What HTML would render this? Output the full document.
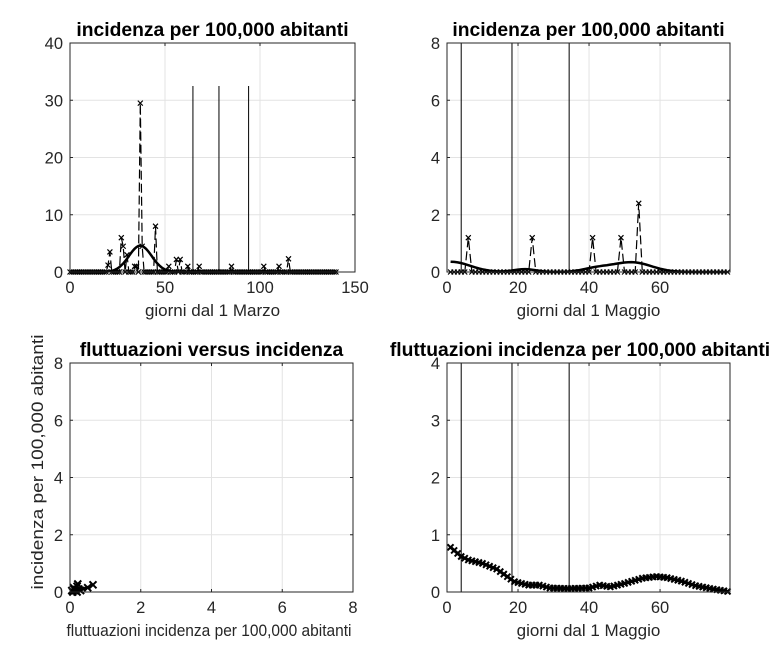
<!DOCTYPE html>
<html><head><meta charset="utf-8"><style>
html,body{margin:0;padding:0;background:#fff;}
svg{display:block;font-family:"Liberation Sans",sans-serif;}
.t{font-size:16.5px;fill:#262626;}
.l{font-size:17px;fill:#262626;}
.ti{font-size:19.3px;font-weight:bold;fill:#000;}
</style></head><body>
<svg id="s" width="784" height="658" viewBox="0 0 784 658" xmlns="http://www.w3.org/2000/svg"></svg>
<script>
var S=document.getElementById('s'),out='';
function ax(L,R,T,B,xl,yl,xt,yt,title,xlab,tx,xlx,xls){
  var o='';
  var sx=function(v){return L+(v-xl[0])/(xl[1]-xl[0])*(R-L)},sy=function(v){return B-(v-yl[0])/(yl[1]-yl[0])*(B-T)};
  xt.forEach(function(v){var x=sx(v);o+='<line x1="'+x+'" y1="'+T+'" x2="'+x+'" y2="'+B+'" stroke="#e3e3e3" stroke-width="1"/>';
    o+='<line x1="'+x+'" y1="'+B+'" x2="'+x+'" y2="'+(B-3)+'" stroke="#262626"/><line x1="'+x+'" y1="'+T+'" x2="'+x+'" y2="'+(T+3)+'" stroke="#262626"/>';
    o+='<text class="t" x="'+x+'" y="'+(B+21)+'" text-anchor="middle">'+v+'</text>';});
  yt.forEach(function(v){var y=sy(v);o+='<line x1="'+L+'" y1="'+y+'" x2="'+R+'" y2="'+y+'" stroke="#e3e3e3" stroke-width="1"/>';
    o+='<line x1="'+L+'" y1="'+y+'" x2="'+(L+3)+'" y2="'+y+'" stroke="#262626"/><line x1="'+R+'" y1="'+y+'" x2="'+(R-3)+'" y2="'+y+'" stroke="#262626"/>';
    o+='<text class="t" x="'+(L-7)+'" y="'+(y+6)+'" text-anchor="end">'+v+'</text>';});
  o+='<text class="ti" x="'+(tx||(L+R)/2)+'" y="'+(T-7)+'" text-anchor="middle">'+title+'</text>';
  if(xlab)o+='<text class="l" x="'+(xlx||(L+R)/2)+'" y="'+(B+44)+'" text-anchor="middle"'+(xls?' textLength="'+xls+'" lengthAdjust="spacingAndGlyphs"':'')+'>'+xlab+'</text>';
  return {o:o,sx:sx,sy:sy,box:'<rect x="'+L+'" y="'+T+'" width="'+(R-L)+'" height="'+(B-T)+'" fill="none" stroke="#262626" stroke-width="1"/>'};
}
function mk(x,y,s,w){s=s||3;return '<path d="M'+(x-s)+' '+(y-s)+'L'+(x+s)+' '+(y+s)+'M'+(x-s)+' '+(y+s)+'L'+(x+s)+' '+(y-s)+'" stroke="#000" stroke-width="'+(w||1)+'" fill="none"/>';}
function pl(a,extra){return '<polyline points="'+a.map(function(p){return p[0].toFixed(1)+','+p[1].toFixed(1)}).join(' ')+'" fill="none" '+extra+'/>';}

// TL
var A=ax(70,355,43,272,[0,150],[0,40],[0,50,100,150],[0,10,20,30,40],'incidenza per 100,000 abitanti','giorni dal 1 Marzo');
out+=A.o;
var sp={20:1.2,21:3.5,27:6,28:4.5,30:3,34:1,35:1,37:29.5,38:4.5,45:8,52:1,56:2.2,58:2.2,62:1,68:1,85:1,102:1,110:1,115:2.3};
var d=[],m='';
for(var i=0;i<=140;i++){var v=sp[i]||0;d.push([A.sx(i),A.sy(v)]);m+=mk(A.sx(i),A.sy(v),2.5,1.2);}
out+=pl(d,'stroke="#000" stroke-width="1.2" stroke-dasharray="9,4"')+m;
var c=[];for(var i=0;i<=140;i++){c.push([A.sx(i),A.sy(4.6*Math.exp(-Math.pow(i-37,2)/(2*36)))]);}
out+=pl(c,'stroke="#000" stroke-width="2.5"');
[64.7,78.4,94].forEach(function(v){out+='<line x1="'+A.sx(v)+'" y1="'+A.sy(32.5)+'" x2="'+A.sx(v)+'" y2="272" stroke="#000" stroke-width="1"/>';});
out+=A.box;

// TR
var B=ax(447,730,43,272,[0,79.7],[0,8],[0,20,40,60],[0,2,4,6,8],'incidenza per 100,000 abitanti','giorni dal 1 Maggio');
out+=B.o;
var sp2={6:1.2,24:1.2,41:1.2,49:1.2,54:2.4};
d=[];m='';
for(var i=1;i<=79;i++){var v=sp2[i]||0;d.push([B.sx(i),B.sy(v)]);m+=mk(B.sx(i),B.sy(v),2.5,1.2);}
out+=pl(d,'stroke="#000" stroke-width="1.2" stroke-dasharray="9,4"')+m;
c=[];for(var i=1;i<=79;i++){var v=0.36*Math.exp(-Math.pow(i-1,2)/60)+0.1*Math.exp(-Math.pow(i-22,2)/20)+0.34*Math.exp(-Math.pow(i-52,2)/60)+0.12*Math.exp(-Math.pow(i-42,2)/30);c.push([B.sx(i),B.sy(v)]);}
out+=pl(c,'stroke="#000" stroke-width="2.5"');
[4,18.3,34.4].forEach(function(v){out+='<line x1="'+B.sx(v)+'" y1="43" x2="'+B.sx(v)+'" y2="272" stroke="#000" stroke-width="1"/>';});
out+=B.box;

// BL
var C=ax(70,353,363,592,[0,8],[0,8],[0,2,4,6,8],[0,2,4,6,8],'fluttuazioni versus incidenza','fluttuazioni incidenza per 100,000 abitanti',undefined,209,285);
out+=C.o;
var pts=[[0.05,0.05],[0.1,0.15],[0.15,0.05],[0.2,0.2],[0.25,0.1],[0.3,0.05],[0.12,0.1],[0.5,0.15],[0.65,0.25],[0.2,0.0],[0.08,0.0],[0.22,0.28]];
d=[];m='';pts.forEach(function(p){d.push([C.sx(p[0]),C.sy(p[1])]);m+=mk(C.sx(p[0]),C.sy(p[1]),3.5,2);});
out+=pl(d,'stroke="#000" stroke-width="2.5"')+m;
out+='<text class="l" transform="translate(43,462) rotate(-90)" text-anchor="middle" textLength="255" lengthAdjust="spacingAndGlyphs">incidenza per 100,000 abitanti</text>';
out+=C.box;

// BR
var D=ax(447,730,363,592,[0,79.7],[0,4],[0,20,40,60],[0,1,2,3,4],'fluttuazioni incidenza per 100,000 abitanti','giorni dal 1 Maggio',580);
out+=D.o;
var key=[[1,0.78],[4,0.62],[6,0.56],[10,0.5],[14,0.4],[19,0.18],[23,0.12],[26,0.12],[29,0.07],[34,0.06],[40,0.07],[43,0.12],[46,0.09],[50,0.15],[55,0.24],[59,0.27],[62,0.25],[66,0.19],[70,0.11],[75,0.05],[79,0.01]];
function interp(x){for(var k=0;k<key.length-1;k++){if(x<=key[k+1][0]){var t=(x-key[k][0])/(key[k+1][0]-key[k][0]);return key[k][1]+t*(key[k+1][1]-key[k][1]);}}return key[key.length-1][1];}
d=[];m='';for(var i=1;i<=79;i++){var v=interp(i);d.push([D.sx(i),D.sy(v)]);m+=mk(D.sx(i),D.sy(v),3,2);}
out+=pl(d,'stroke="#000" stroke-width="3"')+m;
[4,18.3,34.4].forEach(function(v){out+='<line x1="'+D.sx(v)+'" y1="363" x2="'+D.sx(v)+'" y2="592" stroke="#000" stroke-width="1"/>';});
out+=D.box;
S.innerHTML=out;
</script>
</body></html>
